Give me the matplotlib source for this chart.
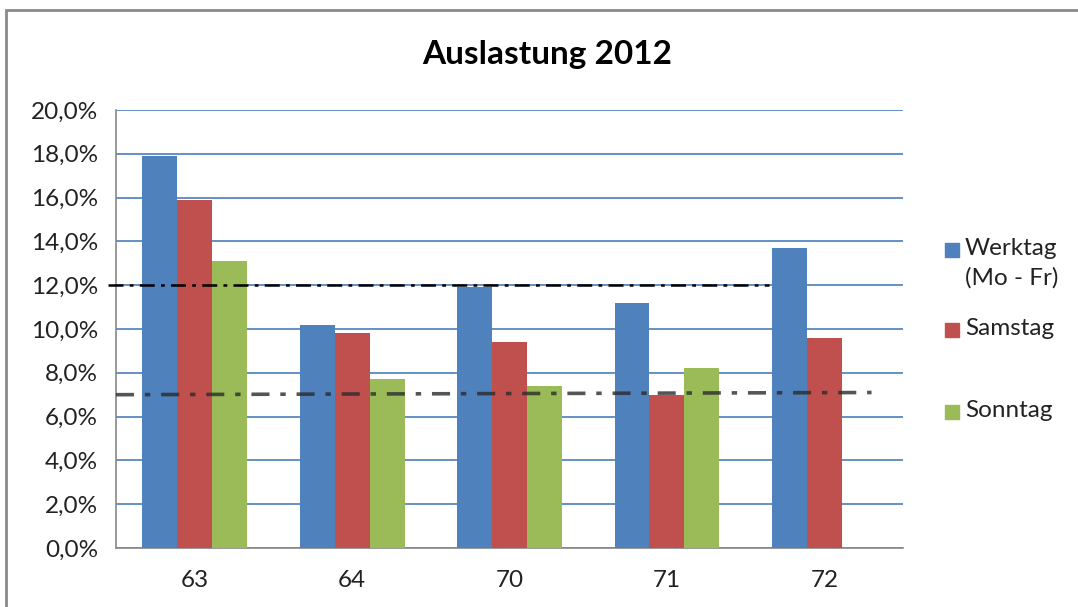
import matplotlib.pyplot as plt
from matplotlib.patches import Rectangle
from matplotlib.ticker import FuncFormatter
import numpy as np

plt.rcParams['font.family'] = ['Lato', 'DejaVu Sans']

categories = ['63', '64', '70', '71', '72']
werktag = [17.9, 10.2, 11.9, 11.2, 13.7]
samstag = [15.9, 9.8, 9.4, 7.0, 9.6]
sonntag = [13.1, 7.7, 7.4, 8.2, 0.0]
series_names = ['Werktag\n(Mo - Fr)', 'Samstag', 'Sonntag']
colors = ['#4F81BD', '#C0504D', '#9BBB59']

# hand-drawn reference lines in the original
line12_x = [-0.55, 3.65]
line12_y = [12.0, 12.0]
line7_x = [-0.5, 4.3]
line7_y = [7.0, 7.1]

fig = plt.figure(figsize=(10.78, 6.07), dpi=100)
ax = fig.add_axes([0.1076, 0.0972, 0.7301, 0.7216])

x = np.arange(len(categories))
w = 0.222
for i, (vals, c) in enumerate(zip([werktag, samstag, sonntag], colors)):
    ax.bar(x + (i - 1) * w, vals, width=w, color=c, edgecolor='none', zorder=3)

ax.plot(line12_x, line12_y, color='black', lw=1.8, linestyle=(0, (6, 2.5, 1.5, 2.5)),
        zorder=4, clip_on=False)
ax.plot(line7_x, line7_y, color='#2b2b2b', lw=2.6, linestyle=(0, (5, 3, 1.5, 3)),
        zorder=4, alpha=0.8, clip_on=False)

ax.set_xlim(-0.5, 4.5)
ax.set_ylim(0, 20)
ax.set_yticks(np.arange(0, 21, 2))
ax.yaxis.set_major_formatter(FuncFormatter(lambda v, p: f'{v:.1f}%'.replace('.', ',')))
ax.set_xticks(x)
ax.set_xticklabels(categories)
ax.tick_params(length=0, labelsize=17.5, colors='#222222')
ax.tick_params(axis='y', pad=13)
ax.tick_params(axis='x', pad=16)
ax.grid(axis='y', color='#4A7EBB', lw=1.2, zorder=0)
for s in ['top', 'right']:
    ax.spines[s].set_visible(False)
for s in ['left', 'bottom']:
    ax.spines[s].set_color('#888888')
    ax.spines[s].set_linewidth(1.2)

fig.text(0.508, 0.91, 'Auslastung 2012', ha='center', va='center',
         fontsize=24, fontweight='bold', color='black')

# legend
leg_y = [250, 330, 412]
for name, c, yy in zip(series_names, colors, leg_y):
    fy = 1 - yy / 607
    fig.patches.append(Rectangle((945 / 1078, fy - 7 / 607), 14 / 1078, 14 / 607,
                                 transform=fig.transFigure, color=c))
    fig.text(965 / 1078, fy + 12 / 607, name, ha='left', va='top', fontsize=17.5,
             color='#222222', linespacing=1.45)

# outer chart frame
fig.patches.append(Rectangle((6 / 1078, -0.05), 1.2, 1 - 10 / 607 + 0.05,
                             transform=fig.transFigure, fill=False,
                             edgecolor='#8a8a8a', lw=2))

fig.savefig('out.png', dpi=100)
